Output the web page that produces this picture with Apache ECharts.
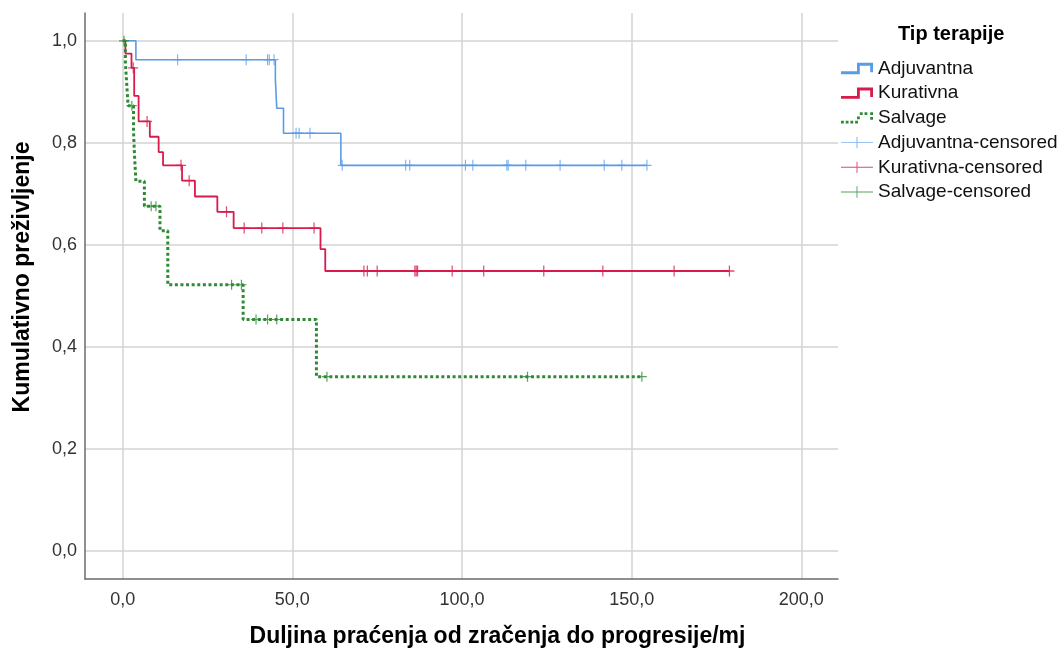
<!DOCTYPE html>
<html>
<head>
<meta charset="utf-8">
<script src="https://cdn.jsdelivr.net/npm/echarts@6/dist/echarts.min.js"></script>
<style>
html,body{margin:0;padding:0;background:#fff;}
#c{width:1063px;height:653px;}
</style>
</head>
<body>
<div id="c"></div>
<script>
// ---- tick labels ----
const xTicks = [0, 50, 100, 150, 200];
const yTicks = [0, 0.2, 0.4, 0.6, 0.8, 1.0];

// ---- Adjuvantna ----
const adjTimes = [0, 3.9, 45.0, 45.4, 47.4, 64.3, 154.5];
const adjSurv  = [1.0, 0.963, 0.925, 0.868, 0.819, 0.756, 0.756];
const adjCensTimes = [16.2, 36.4, 42.7, 43.2, 44.6, 51.1, 52.0, 55.2, 64.7, 83.4, 84.6, 101.0, 103.2, 113.2, 113.6, 118.8, 128.9, 141.9, 147.1, 154.5];
const adjCensSurv  = [0.963, 0.963, 0.963, 0.963, 0.963, 0.819, 0.819, 0.819, 0.756, 0.756, 0.756, 0.756, 0.756, 0.756, 0.756, 0.756, 0.756, 0.756, 0.756, 0.756];

// ---- Kurativna ----
const kurTimes = [0, 0.8, 2.6, 3.4, 4.7, 8.0, 10.6, 11.9, 17.5, 21.3, 27.9, 32.7, 58.3, 59.7, 178.8];
const kurSurv  = [1.0, 0.975, 0.947, 0.892, 0.842, 0.812, 0.782, 0.756, 0.726, 0.695, 0.665, 0.633, 0.592, 0.549, 0.549];
const kurCensTimes = [3.1, 7.2, 17.2, 19.6, 30.6, 35.8, 41.0, 47.2, 56.4, 71.1, 72.1, 75.0, 86.1, 86.5, 86.9, 97.1, 106.4, 124.1, 141.5, 162.5, 178.8];
const kurCensSurv  = [0.947, 0.842, 0.756, 0.726, 0.665, 0.633, 0.633, 0.633, 0.633, 0.549, 0.549, 0.549, 0.549, 0.549, 0.549, 0.549, 0.549, 0.549, 0.549, 0.549, 0.549];

// ---- Salvage ----
const salTimes = [0, 0.8, 1.2, 1.6, 3.2, 3.5, 3.9, 6.4, 11.0, 13.3, 35.5, 57.1, 153.0];
const salSurv  = [1.0, 0.957, 0.915, 0.873, 0.822, 0.774, 0.725, 0.676, 0.628, 0.522, 0.454, 0.342, 0.342];
const salCensTimes = [0.4, 2.7, 8.4, 9.8, 32.1, 35.0, 39.3, 42.7, 45.4, 60.2, 119.3, 153.0];
const salCensSurv  = [1.0, 0.873, 0.676, 0.676, 0.522, 0.522, 0.454, 0.454, 0.454, 0.342, 0.342, 0.342];

const cBlue = '#5a9be6', cRed = '#d81b4b', cGreen = '#2e8b34';
const FONT = '"Liberation Sans", Arial, sans-serif';

function pairs(xs, ys) { return xs.map((x, i) => [x, ys[i]]); }
const crossPath = 'path://M0,4.4H10V5.6H0Z M4.4,0H5.6V10H4.4Z';
const stepIcon = 'path://M0,9H17V0H34V10H31V3H20V12H0Z';
const dotIcon = 'path://M0,9h3v3h-3z M5,9h3v3h-3z M10,9h3v3h-3z M15,9h3v3h-3z M17,4.5h3v3h-3z M20,0h3v3h-3z M25,0h3v3h-3z M31,0h3v3h-3z M31,5h3v3h-3z';
const legendCross = 'path://M0,5.5H34V6.5H0Z M16.5,0H17.5V12H16.5Z';

function fmt(v) { return v.toFixed(1).replace('.', ','); }

const chart = echarts.init(document.getElementById('c'), null, {renderer: 'canvas'});
chart.setOption({
  backgroundColor: '#fff',
  animation: false,
  textStyle: {fontFamily: FONT},
  title: {
    text: 'Tip terapije', left: 898, top: 24, padding: 0,
    textStyle: {fontFamily: FONT, fontSize: 20, fontWeight: 'bold', color: '#000'}
  },
  legend: {
    orient: 'vertical', left: 841, top: 59, padding: 0,
    itemWidth: 32, itemHeight: 12, itemGap: 5.7,
    itemStyle: {borderWidth: 0},
    textStyle: {fontFamily: FONT, fontSize: 19, color: '#111'},
    data: [
      {name: 'Adjuvantna', icon: stepIcon},
      {name: 'Kurativna', icon: stepIcon},
      {name: 'Salvage', icon: dotIcon},
      {name: 'Adjuvantna-censored', icon: legendCross},
      {name: 'Kurativna-censored', icon: legendCross},
      {name: 'Salvage-censored', icon: legendCross}
    ]
  },
  grid: {left: 85, right: 225, top: 13, bottom: 71, containLabel: false},
  xAxis: {
    type: 'value', min: -11.1, max: 210.8,
    name: 'Duljina praćenja od zračenja do progresije/mj',
    nameLocation: 'middle', nameGap: 46,
    nameTextStyle: {fontFamily: FONT, fontSize: 23, fontWeight: 'bold', color: '#000', padding: [0, 0, 0, 72]},
    axisLine: {show: true, onZero: false, lineStyle: {color: '#6b6b6b', width: 1.5}},
    axisTick: {show: false, customValues: xTicks},
    axisLabel: {customValues: xTicks, formatter: fmt, fontSize: 18, color: '#333', margin: 12, fontFamily: FONT},
    splitLine: {show: true, lineStyle: {color: '#d3d3d3', width: 1.5}}
  },
  yAxis: {
    type: 'value', min: -0.0545, max: 1.0545,
    name: 'Kumulativno preživljenje',
    nameLocation: 'middle', nameGap: 51,
    nameTextStyle: {fontFamily: FONT, fontSize: 23, fontWeight: 'bold', color: '#000', padding: [0, 0, 0, 38]},
    axisLine: {show: true, onZero: false, lineStyle: {color: '#6b6b6b', width: 1.5}},
    axisTick: {show: false, customValues: yTicks},
    axisLabel: {customValues: yTicks, formatter: fmt, fontSize: 18, color: '#333', margin: 8, fontFamily: FONT},
    splitLine: {show: true, lineStyle: {color: '#d3d3d3', width: 1.5}}
  },
  series: [
    {name: 'Adjuvantna', type: 'line', step: 'end', showSymbol: false, symbol: 'none',
     data: pairs(adjTimes, adjSurv), itemStyle: {color: cBlue},
     lineStyle: {color: cBlue, width: 1.6}, z: 3},
    {name: 'Kurativna', type: 'line', step: 'end', showSymbol: false, symbol: 'none',
     data: pairs(kurTimes, kurSurv), itemStyle: {color: cRed},
     lineStyle: {color: cRed, width: 1.8}, z: 3},
    {name: 'Salvage', type: 'line', step: 'end', showSymbol: false, symbol: 'none',
     data: pairs(salTimes, salSurv), itemStyle: {color: cGreen},
     lineStyle: {color: cGreen, width: 3, type: [3, 2.6]}, z: 3},
    {name: 'Adjuvantna-censored', type: 'scatter', symbol: crossPath, symbolSize: [9, 11],
     data: pairs(adjCensTimes, adjCensSurv), itemStyle: {color: cBlue}, z: 4},
    {name: 'Kurativna-censored', type: 'scatter', symbol: crossPath, symbolSize: [10, 11],
     data: pairs(kurCensTimes, kurCensSurv), itemStyle: {color: cRed}, z: 4},
    {name: 'Salvage-censored', type: 'scatter', symbol: crossPath, symbolSize: [10, 10],
     data: pairs(salCensTimes, salCensSurv), itemStyle: {color: cGreen}, z: 4}
  ]
});
</script>
</body>
</html>
